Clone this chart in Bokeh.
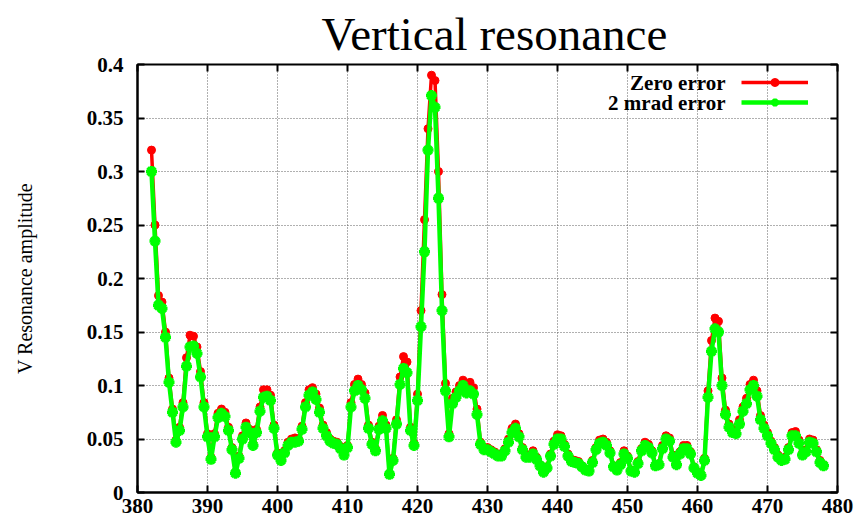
from bokeh.plotting import figure
from bokeh.models import (LinearAxis, FixedTicker, CustomJSTickFormatter, Legend,
                          LegendItem, Label, Range1d, ColumnDataSource)
from bokeh.core.properties import value
from bokeh.embed import file_html
from bokeh.resources import INLINE

# ---------------- data ----------------
x_values = [
    382.0, 382.5, 383.0, 383.5, 384.0, 384.5, 385.0, 385.5, 386.0, 386.5,
    387.0, 387.5, 388.0, 388.5, 389.0, 389.5, 390.0, 390.5, 391.0, 391.5,
    392.0, 392.5, 393.0, 393.5, 394.0, 394.5, 395.0, 395.5, 396.0, 396.5,
    397.0, 397.5, 398.0, 398.5, 399.0, 399.5, 400.0, 400.5, 401.0, 401.5,
    402.0, 402.5, 403.0, 403.5, 404.0, 404.5, 405.0, 405.5, 406.0, 406.5,
    407.0, 407.5, 408.0, 408.5, 409.0, 409.5, 410.0, 410.5, 411.0, 411.5,
    412.0, 412.5, 413.0, 413.5, 414.0, 414.5, 415.0, 415.5, 416.0, 416.5,
    417.0, 417.5, 418.0, 418.5, 419.0, 419.5, 420.0, 420.5, 421.0, 421.5,
    422.0, 422.5, 423.0, 423.5, 424.0, 424.5, 425.0, 425.5, 426.0, 426.5,
    427.0, 427.5, 428.0, 428.5, 429.0, 429.5, 430.0, 430.5, 431.0, 431.5,
    432.0, 432.5, 433.0, 433.5, 434.0, 434.5, 435.0, 435.5, 436.0, 436.5,
    437.0, 437.5, 438.0, 438.5, 439.0, 439.5, 440.0, 440.5, 441.0, 441.5,
    442.0, 442.5, 443.0, 443.5, 444.0, 444.5, 445.0, 445.5, 446.0, 446.5,
    447.0, 447.5, 448.0, 448.5, 449.0, 449.5, 450.0, 450.5, 451.0, 451.5,
    452.0, 452.5, 453.0, 453.5, 454.0, 454.5, 455.0, 455.5, 456.0, 456.5,
    457.0, 457.5, 458.0, 458.5, 459.0, 459.5, 460.0, 460.5, 461.0, 461.5,
    462.0, 462.5, 463.0, 463.5, 464.0, 464.5, 465.0, 465.5, 466.0, 466.5,
    467.0, 467.5, 468.0, 468.5, 469.0, 469.5, 470.0, 470.5, 471.0, 471.5,
    472.0, 472.5, 473.0, 473.5, 474.0, 474.5, 475.0, 475.5, 476.0, 476.5,
    477.0, 477.5, 478.0,
]

zero_error = [
    0.320, 0.250, 0.184, 0.178, 0.150, 0.107, 0.078, 0.049, 0.061, 0.084,
    0.126, 0.147, 0.146, 0.136, 0.113, 0.084, 0.055, 0.033, 0.055, 0.074,
    0.078, 0.075, 0.061, 0.042, 0.019, 0.034, 0.053, 0.065, 0.059, 0.046,
    0.059, 0.080, 0.096, 0.096, 0.091, 0.063, 0.037, 0.032, 0.039, 0.047,
    0.050, 0.051, 0.050, 0.062, 0.084, 0.096, 0.098, 0.092, 0.079, 0.063,
    0.056, 0.050, 0.048, 0.047, 0.043, 0.037, 0.044, 0.084, 0.101, 0.106,
    0.101, 0.093, 0.063, 0.047, 0.041, 0.062, 0.072, 0.063, 0.018, 0.032,
    0.068, 0.108, 0.127, 0.122, 0.061, 0.046, 0.092, 0.170, 0.255, 0.340,
    0.390, 0.385, 0.300, 0.185, 0.102, 0.055, 0.088, 0.094, 0.100, 0.105,
    0.098, 0.103, 0.098, 0.078, 0.047, 0.042, 0.042, 0.040, 0.038, 0.036,
    0.036, 0.041, 0.050, 0.060, 0.064, 0.055, 0.042, 0.035, 0.035, 0.039,
    0.033, 0.026, 0.020, 0.024, 0.036, 0.048, 0.054, 0.053, 0.045, 0.036,
    0.031, 0.030, 0.029, 0.025, 0.022, 0.021, 0.030, 0.042, 0.049, 0.050,
    0.047, 0.039, 0.025, 0.022, 0.028, 0.039, 0.034, 0.021, 0.020, 0.029,
    0.041, 0.047, 0.045, 0.039, 0.026, 0.027, 0.044, 0.053, 0.051, 0.035,
    0.027, 0.038, 0.044, 0.044, 0.038, 0.024, 0.019, 0.017, 0.032, 0.095,
    0.142, 0.163, 0.160, 0.107, 0.077, 0.064, 0.059, 0.058, 0.068, 0.080,
    0.088, 0.101, 0.105, 0.095, 0.072, 0.063, 0.056, 0.048, 0.042, 0.035,
    0.032, 0.033, 0.042, 0.056, 0.057, 0.049, 0.037, 0.040, 0.050, 0.049,
    0.040, 0.030, 0.026,
]

mrad2_error = [
    0.300, 0.235, 0.175, 0.172, 0.145, 0.103, 0.075, 0.047, 0.058, 0.080,
    0.118, 0.136, 0.137, 0.130, 0.108, 0.080, 0.052, 0.031, 0.052, 0.070,
    0.074, 0.071, 0.058, 0.040, 0.018, 0.032, 0.050, 0.061, 0.056, 0.044,
    0.056, 0.076, 0.089, 0.090, 0.086, 0.060, 0.035, 0.030, 0.037, 0.044,
    0.047, 0.047, 0.048, 0.059, 0.080, 0.091, 0.094, 0.087, 0.075, 0.060,
    0.053, 0.048, 0.046, 0.045, 0.041, 0.035, 0.042, 0.080, 0.095, 0.100,
    0.096, 0.088, 0.060, 0.045, 0.039, 0.059, 0.067, 0.060, 0.017, 0.030,
    0.064, 0.101, 0.116, 0.112, 0.058, 0.044, 0.086, 0.155, 0.225, 0.320,
    0.371, 0.360, 0.275, 0.170, 0.095, 0.052, 0.083, 0.089, 0.095, 0.100,
    0.093, 0.095, 0.092, 0.073, 0.045, 0.040, 0.040, 0.038, 0.036, 0.034,
    0.034, 0.039, 0.047, 0.056, 0.060, 0.052, 0.040, 0.033, 0.033, 0.036,
    0.031, 0.025, 0.019, 0.023, 0.034, 0.045, 0.050, 0.050, 0.043, 0.034,
    0.029, 0.028, 0.027, 0.024, 0.021, 0.020, 0.028, 0.040, 0.046, 0.047,
    0.044, 0.037, 0.024, 0.021, 0.026, 0.036, 0.032, 0.020, 0.019, 0.027,
    0.039, 0.044, 0.042, 0.037, 0.025, 0.026, 0.041, 0.050, 0.048, 0.033,
    0.026, 0.036, 0.041, 0.041, 0.036, 0.023, 0.018, 0.016, 0.030, 0.089,
    0.132, 0.153, 0.150, 0.100, 0.073, 0.061, 0.056, 0.055, 0.064, 0.076,
    0.083, 0.096, 0.100, 0.090, 0.068, 0.060, 0.053, 0.046, 0.040, 0.033,
    0.030, 0.031, 0.040, 0.053, 0.053, 0.046, 0.035, 0.038, 0.047, 0.046,
    0.038, 0.028, 0.025,
]

x_ticks = [380, 390, 400, 410, 420, 430, 440, 450, 460, 470, 480]
y_ticks = [0, 0.05, 0.1, 0.15, 0.2, 0.25, 0.3, 0.35, 0.4]
series_names = ["Zero error", "2 mrad error"]
title_text = "Vertical resonance"
y_label = "V Resonance amplitude"

SERIF = "Liberation Serif"

# ---------------- figure ----------------
p = figure(width=859, height=524, output_backend="svg", toolbar_location=None,
           x_range=Range1d(380, 480), y_range=Range1d(0, 0.4),
           min_border_left=137, min_border_right=22, min_border_top=64,
           min_border_bottom=32)

p.title.text = title_text
p.title.text_font = SERIF
p.title.text_font_size = "47px"
p.title.text_font_style = "normal"
p.title.align = "left"
p.title.offset = 184
p.title.text_color = "black"

p.outline_line_color = "black"
p.outline_line_width = 2
p.background_fill_color = "white"
p.border_fill_color = "white"

fmt = CustomJSTickFormatter(code="return String(Math.round(tick*100)/100);")
blank_fmt = CustomJSTickFormatter(code="return '';")

for ax, ticks in ((p.xaxis[0], x_ticks), (p.yaxis[0], y_ticks)):
    ax.ticker = FixedTicker(ticks=ticks)
    ax.formatter = fmt
    ax.axis_line_color = "black"
    ax.axis_line_width = 2
    ax.major_tick_in = 7
    ax.major_tick_out = 0
    ax.major_tick_line_width = 2
    ax.major_tick_line_color = "black"
    ax.minor_tick_line_color = None
    ax.major_label_text_font = SERIF
    ax.major_label_text_font_style = "bold"
    ax.major_label_text_font_size = "21px"
    ax.major_label_text_color = "black"

p.xaxis[0].major_label_standoff = 6
p.yaxis[0].major_label_standoff = 14
p.yaxis[0].axis_label = y_label
p.yaxis[0].axis_label_text_font = SERIF
p.yaxis[0].axis_label_text_font_style = "normal"
p.yaxis[0].axis_label_text_font_size = "20px"
p.yaxis[0].axis_label_text_color = "black"
p.yaxis[0].axis_label_standoff = 48

# mirror ticks on top and right (no labels)
for loc, ticks in (("above", x_ticks), ("right", y_ticks)):
    ax = LinearAxis(ticker=FixedTicker(ticks=ticks), formatter=blank_fmt)
    ax.axis_line_color = None
    ax.major_tick_in = 7
    ax.major_tick_out = 0
    ax.major_tick_line_width = 2
    ax.major_tick_line_color = "black"
    ax.minor_tick_line_color = None
    ax.major_label_standoff = 0
    p.add_layout(ax, loc)

p.xgrid.ticker = FixedTicker(ticks=x_ticks)
p.ygrid.ticker = FixedTicker(ticks=y_ticks)
for g in (p.xgrid[0], p.ygrid[0]):
    g.grid_line_color = "#606060"
    g.grid_line_width = 1
    g.grid_line_dash = "1 2"

# ---------------- series ----------------
src = ColumnDataSource(dict(x=x_values, zero=zero_error, mrad=mrad2_error))

r_line = p.line("x", "zero", source=src, line_color="#ff0000", line_width=3.5)
r_pts = p.scatter("x", "zero", source=src, marker="circle", size=8,
                  fill_color="#ff0000", line_color="#ff0000")
g_line = p.line("x", "mrad", source=src, line_color="#00ff00", line_width=4.5)
g_pts = p.scatter("x", "mrad", source=src, marker="asterisk", size=11,
                  line_color="#00ff00", line_width=3.5)

# ---------------- legend (samples via Legend, texts via Labels) ----------------
legend = Legend(items=[LegendItem(label=value(""), renderers=[r_line, r_pts]),
                       LegendItem(label=value(""), renderers=[g_line, g_pts])],
                location=(604, 380), glyph_width=67, glyph_height=20, spacing=0,
                padding=0, margin=0, label_standoff=0, label_width=0, label_height=0,
                border_line_color=None, background_fill_alpha=0)
p.add_layout(legend)

for i, name in enumerate(series_names):
    p.add_layout(Label(x=588, y=410 - 20 * i, x_units="screen", y_units="screen",
                       text=name, text_align="right", text_baseline="middle",
                       text_font=SERIF, text_font_style="bold",
                       text_font_size="21px", text_color="black"))

open("out.html", "w").write(file_html(p, INLINE))
